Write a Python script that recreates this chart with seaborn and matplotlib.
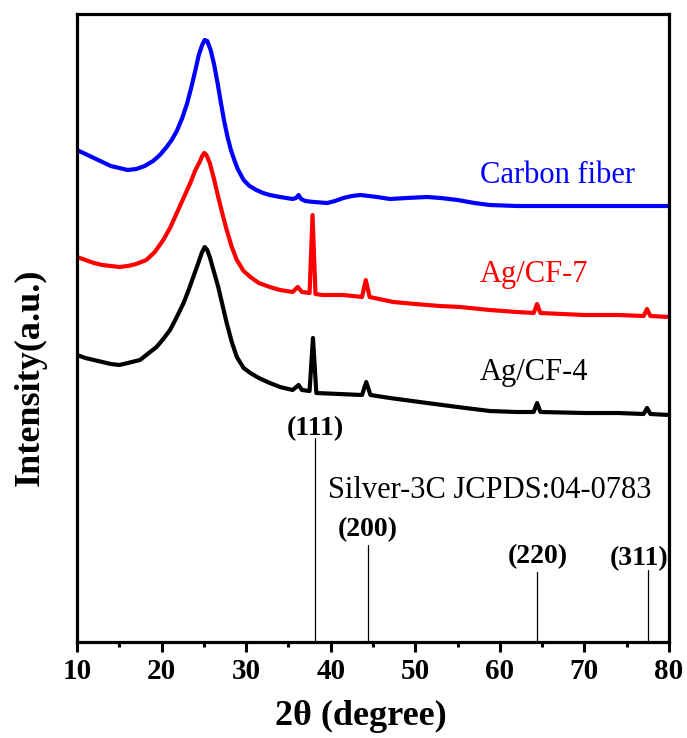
import matplotlib
matplotlib.use("Agg")
import matplotlib.pyplot as plt
from matplotlib.ticker import MultipleLocator
import seaborn as sns
import pandas as pd

# ---- data (2theta in degree, intensity in a.u.) ----
cf_x = [10, 11, 12, 13, 14, 15, 16, 17, 18, 19, 19.8, 20.6, 21.2, 21.8, 22.4, 23, 23.5,
        24, 24.4, 24.8, 25.1, 25.4, 25.8, 26.2, 26.6, 27.0, 27.4, 27.8, 28.2, 28.6, 29,
        29.7, 30.4, 31.2, 32, 32.8, 34, 35.5, 35.9, 36.2, 36.5, 37, 38, 39.6, 40.5, 41.5,
        42.5, 43.5, 44.5, 45.5, 47, 49, 51.4, 53, 55, 57, 58.8, 62, 70, 80]
cf_y = [492, 488, 484, 480, 476, 474, 472, 473, 476, 481, 487, 495, 502, 511, 523, 538, 554,
        572, 587, 597, 602, 601, 592, 578, 560, 540, 521, 505, 492, 482, 473,
        462, 456, 452, 449, 447, 445, 443, 444, 447, 443, 441, 440, 439, 441, 444,
        446, 447, 446, 445, 443, 444, 445, 444, 442, 439, 437, 436, 436, 436]

ag7_x = [10, 11, 12, 13, 14, 15, 16, 17, 18.2, 19.2, 20.2, 21, 21.8, 22.6, 23.4, 24, 24.5,
         24.8, 25.05, 25.3, 25.7, 26.2, 26.7, 27.2, 27.7, 28.3, 28.9, 29.7, 30.5, 31.5,
         32.8, 34, 35.5, 36.1, 36.6, 37.5, 37.85, 38.2, 39, 41.5, 43.7, 44.15, 44.6,
         47.4, 50, 52.9, 55.3, 58.8, 62, 64.0, 64.4, 64.8, 70, 74, 77.0, 77.4, 77.8, 80]
ag7_y = [385, 382, 379, 377, 376, 375, 376, 378, 382, 390, 402, 414, 429, 444, 459, 472, 480,
         486, 489, 487, 479, 463, 445, 428, 412, 395, 382, 371, 365, 359,
         355, 352, 350, 355, 350, 349, 427, 348, 347, 347, 345, 362, 345,
         340, 338, 336, 335, 332, 330, 329, 338, 329, 327, 327, 326, 333, 326, 325]

ag4_x = [10, 11, 12, 13, 14, 15, 16, 17.45, 18.5, 19.4, 20.2, 21, 21.8, 22.6, 23.2, 23.75,
         24.3, 24.75, 25.1, 25.4, 25.7, 26.2, 26.7, 27.2, 27.7, 28.3, 28.9, 29.7, 30.5,
         31.5, 32.8, 34, 35.5, 36.2, 36.6, 37.5, 37.9, 38.3, 41, 43.7, 44.2, 44.7, 47,
         51.4, 55, 58.8, 62, 64.0, 64.4, 64.8, 70, 74, 77.0, 77.4, 77.8, 80]
ag4_y = [287, 284, 282, 280, 278, 277, 279, 282, 289, 295, 303, 312, 325, 339, 352, 365,
         378, 389, 395, 392, 385, 370, 355, 337, 319, 300, 285, 274, 269,
         264, 259, 255, 252, 257, 252, 251, 304, 249, 248, 247, 260, 247, 244,
         239, 235, 231, 230, 230, 239, 230, 229, 229, 228, 234, 228, 227]

ref_pos = [38.2, 44.35, 64.45, 77.5]
ref_height = [204, 97, 70, 72]
ref_labels = ["(111)", "(200)", "(220)", "(311)"]
ref_label_x = [38.2, 44.35, 64.45, 76.45]
ref_label_y = [207, 106, 79, 77]

series_names = ["Carbon fiber", "Ag/CF-7", "Ag/CF-4"]
series_colors = ["#0000ff", "#ff0000", "#000000"]
label_y = [459, 360, 262]

xticks = [10, 20, 30, 40, 50, 60, 70, 80]

# ---- plot ----
sns.set_theme(style="white")
plt.rcParams["font.family"] = ["Liberation Serif", "DejaVu Serif"]
plt.rcParams["text.color"] = "black"
plt.rcParams["axes.labelcolor"] = "black"
plt.rcParams["xtick.color"] = "black"
plt.rcParams["ytick.color"] = "black"

fig = plt.figure(figsize=(6.87, 7.38), dpi=100)
ax = fig.add_axes([77 / 687, 1 - 642 / 738, 592 / 687, 628 / 738])

for xs, ys, c in zip([cf_x, ag7_x, ag4_x], [cf_y, ag7_y, ag4_y], series_colors):
    df = pd.DataFrame({"x": xs, "y": ys})
    sns.lineplot(data=df, x="x", y="y", color=c, linewidth=3.0, ax=ax,
                 sort=False, estimator=None)

for p, h in zip(ref_pos, ref_height):
    ax.plot([p, p], [0, h], color="black", linewidth=0.9)

for lx, ly, t in zip(ref_label_x, ref_label_y, ref_labels):
    ax.text(lx, ly, t, ha="center", va="baseline", fontsize=20, fontweight="bold",
            color="black")

ax.text(39.68, 144, "Silver-3C JCPDS:04-0783", ha="left", va="baseline", fontsize=22,
        color="black")

for name, c, ly in zip(series_names, series_colors, label_y):
    ax.text(57.65, ly, name, color=c, ha="left", va="baseline", fontsize=22)

ax.set_xlim(10, 80)
ax.set_ylim(0, 628)
ax.set_xticks(xticks)
ax.set_xticklabels([str(t) for t in xticks], fontsize=21, fontweight="bold")
ax.xaxis.set_minor_locator(MultipleLocator(5))
ax.set_yticks([])
ax.tick_params(axis="x", which="major", direction="out", length=7.5, width=2.2,
               bottom=True, top=False, pad=4, colors="black")
ax.tick_params(axis="x", which="minor", direction="out", length=3.8, width=2.2,
               bottom=True, top=False, colors="black")
for s in ax.spines.values():
    s.set_linewidth(2.3)
    s.set_color("black")

ax.set_xlabel("2θ (degree)", fontsize=26, fontweight="bold", color="black")
ax.set_ylabel("Intensity(a.u.)", fontsize=26, fontweight="bold", color="black")
ax.xaxis.set_label_coords(0.48, -0.092)
ax.yaxis.set_label_coords(-0.051, 0.422)

fig.savefig("out.png", dpi=100)
